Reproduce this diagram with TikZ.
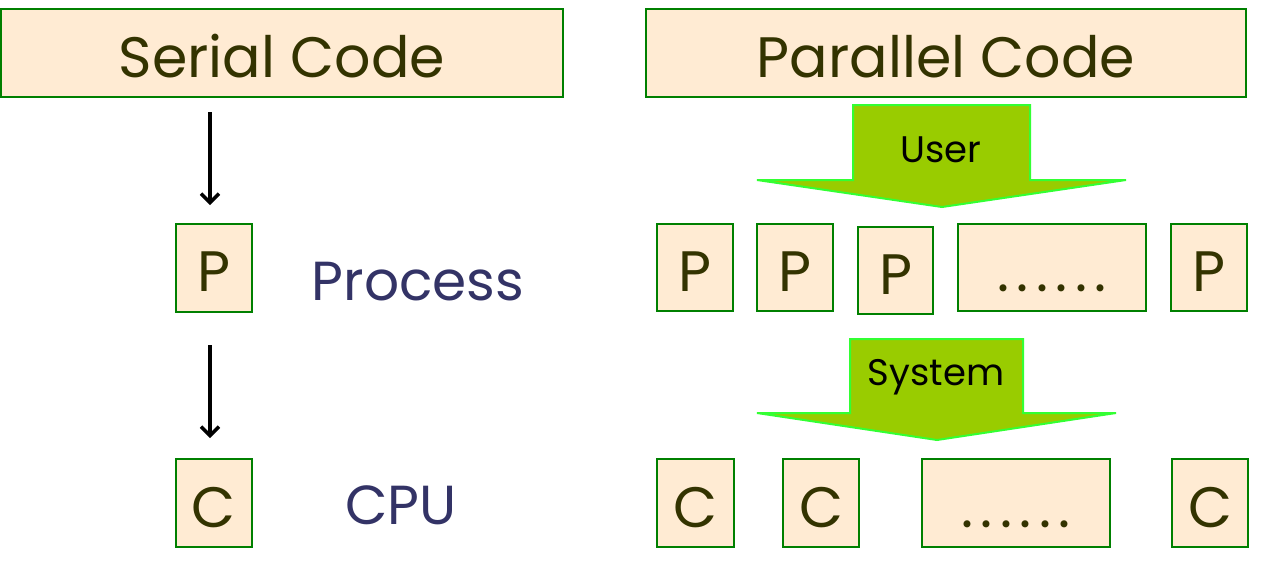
\documentclass[tikz,border=0pt]{standalone}
\usepackage{fontspec}
\setmainfont{Poppins}
\usetikzlibrary{arrows.meta}
\definecolor{boxfill}{HTML}{FFEBD3}
\definecolor{boxline}{HTML}{008000}
\definecolor{olive}{HTML}{333300}
\definecolor{navy}{HTML}{333366}
\definecolor{arrowfill}{HTML}{99CC00}
\definecolor{arrowline}{HTML}{33FF33}
\newcommand\sixdots{\makebox[19.5pt]{.}\makebox[19.5pt]{.}\makebox[19.5pt]{.}\makebox[19.5pt]{.}\makebox[19.5pt]{.}\makebox[19.5pt]{.}}
\tikzset{
  box/.style={draw=boxline, fill=boxfill, line width=2pt, inner sep=0pt, text=olive,
    font=\fontsize{57}{57}\selectfont, text height=48pt, text depth=0pt},
  lbl/.style={text=navy, inner sep=0pt, font=\fontsize{55}{55}\selectfont},
  bigarrow/.style={fill=arrowfill, draw=arrowline, line width=2pt, line join=miter},
  arrowtext/.style={inner sep=0pt, text=black, font=\fontsize{37}{37}\selectfont},
  flow/.style={draw=black, line width=3.5pt, -{Straight Barb[length=9pt,width=18pt]}}
}
\begin{document}
\begin{tikzpicture}[x=1pt,y=-1pt]
\useasboundingbox (0,0) rectangle (1268,574);
% titles
\node[box, minimum width=562pt, minimum height=88pt] (serial) at (282,53) {Serial Code};
\node[box, minimum width=600pt, minimum height=88pt] (parallel) at (946,53) {Parallel Code};
% serial column
\node[box, minimum width=76pt, minimum height=88pt] (sp) at (213.5,267.5) {P};
\node[box, minimum width=76pt, minimum height=88pt] (sc) at (213.5,503) {C};
\node[lbl] (process) at (418,282) {Process};
\node[lbl] (cpu) at (401,505) {CPU};
\coordinate (a1s) at (210,112);
\coordinate (a1e) at (210,205);
\coordinate (a2s) at (210,345);
\coordinate (a2e) at (210,438);
\draw[flow] (a1s) -- (a1e);
\draw[flow] (a2s) -- (a2e);
% parallel processes
\node[box, minimum width=76pt, minimum height=87pt] (pp1) at (695,267.5) {P};
\node[box, minimum width=76pt, minimum height=87pt] (pp2) at (795,267.5) {P};
\node[box, minimum width=75pt, minimum height=87pt] (pp3) at (895.5,270) {P};
\node[box, minimum width=188pt, minimum height=87pt] (ppd) at (1052,267.5) {\sixdots};
\node[box, minimum width=76pt, minimum height=87pt] (pp5) at (1209,267.5) {P};
% parallel cpus
\node[box, minimum width=77pt, minimum height=88pt] (pc1) at (695.5,503) {C};
\node[box, minimum width=76pt, minimum height=88pt] (pc2) at (821,503) {C};
\node[box, minimum width=188pt, minimum height=88pt] (pcd) at (1016,503) {\sixdots};
\node[box, minimum width=76pt, minimum height=88pt] (pc4) at (1210,503) {C};
% big arrows
\draw[bigarrow] (853,105) -- (1030,105) -- (1030,180) -- (1126,180) -- (942,207) -- (757,180) -- (853,180) -- cycle;
\node[arrowtext] (user) at (941,150) {User};
\draw[bigarrow] (850,339) -- (1023,339) -- (1023,413) -- (1116,413) -- (937,440) -- (757,413) -- (850,413) -- cycle;
\node[arrowtext] (system) at (936,377) {System};
\end{tikzpicture}
\end{document}
